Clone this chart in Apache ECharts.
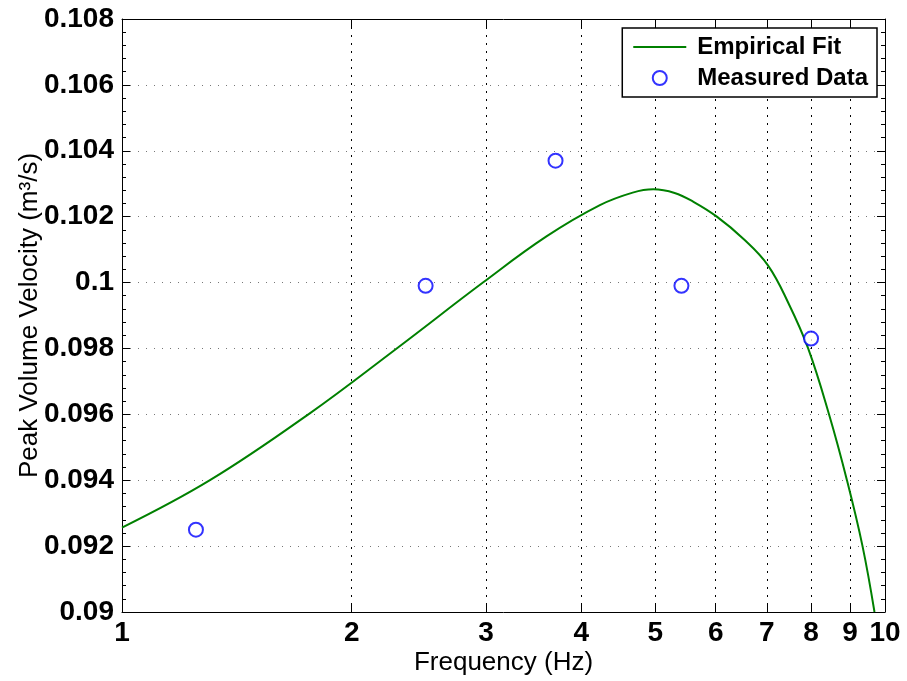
<!DOCTYPE html>
<html>
<head>
<meta charset="utf-8">
<script src="https://cdn.jsdelivr.net/npm/echarts@6/dist/echarts.min.js"></script>
<style>
  html, body { margin: 0; padding: 0; background: #fff; }
  #chart { width: 907px; height: 681px; }
</style>
</head>
<body>
<div id="chart"></div>
<script>
// Empirical fit curve (frequency in Hz, peak volume velocity in m^3/s)
const fitFreq = [1.0, 1.304, 1.755, 2.291, 2.972, 3.60, 4.23, 4.67, 4.97, 5.30, 5.61,
                 6.02, 6.52, 7.02, 7.47, 7.93, 8.445, 8.915, 9.344, 9.688];
const fitVel  = [0.09256, 0.09400, 0.09600, 0.09800, 0.10000, 0.10140, 0.10235, 0.10273,
                 0.10283, 0.10272, 0.10245, 0.10200, 0.10133, 0.10053, 0.09938, 0.09800,
                 0.09600, 0.09400, 0.09200, 0.09000];

// Measured points
const measFreq = [1.25, 2.50, 3.70, 5.41, 8.00];
const measVel  = [0.0925, 0.0999, 0.1037, 0.0999, 0.0983];

// Axis ticks
const xTicks = [1, 2, 3, 4, 5, 6, 7, 8, 9, 10];
const yMin = 0.09, yMax = 0.108, yStep = 0.002;

const FONT = "'Liberation Sans', Arial, Helvetica, sans-serif";

const chart = echarts.init(document.getElementById('chart'), null, { renderer: 'canvas' });

const fitData = fitFreq.map((f, i) => [f, fitVel[i]]);
const measData = measFreq.map((f, i) => [f, measVel[i]]);

const yFmt = v => String(parseFloat(v.toFixed(3)));

const xBase = {
  type: 'log',
  logBase: 10,
  min: 1,
  max: 10,
  axisLine: { show: true, onZero: false, lineStyle: { color: '#000', width: 1 } },
  axisTick: { show: true, inside: true, length: 8, customValues: xTicks, lineStyle: { color: '#000' } },
  minorTick: { show: false }
};

const yBase = {
  type: 'value',
  min: yMin,
  max: yMax,
  interval: yStep,
  axisLine: { show: true, onZero: false, lineStyle: { color: '#000', width: 1 } },
  axisTick: { show: true, inside: true, length: 8, lineStyle: { color: '#000' } },
  minorTick: { show: true, splitNumber: 5, length: 4, lineStyle: { color: '#000' } }
};

chart.setOption({
  animation: false,
  backgroundColor: '#fff',
  grid: { left: 122, right: 22, top: 19, bottom: 69, containLabel: false },
  legend: {
    orient: 'vertical',
    right: 30,
    top: 28,
    align: 'left',
    padding: [7, 9, 7, 11],
    itemGap: 7,
    itemWidth: 53,
    itemHeight: 14,
    borderColor: '#000',
    borderWidth: 1.5,
    backgroundColor: '#fff',
    textStyle: { fontFamily: FONT, fontSize: 24, fontWeight: 'bold', color: '#000', padding: [0, 0, 0, 6] },
    data: [
      { name: 'Empirical Fit', icon: 'path://M0 0H53V2H0Z' },
      { name: 'Measured Data' }
    ]
  },
  xAxis: [
    Object.assign({}, xBase, {
      position: 'bottom',
      name: 'Frequency (Hz)',
      nameLocation: 'middle',
      nameGap: 38,
      nameMoveOverlap: false,
      nameTextStyle: { fontFamily: FONT, fontSize: 26, color: '#000' },
      axisLabel: {
        show: true, margin: 7, customValues: xTicks,
        fontFamily: FONT, fontSize: 28, fontWeight: 'bold', color: '#000',
        formatter: v => String(Math.round(v))
      },
      splitLine: { show: true, lineStyle: { color: '#000', width: 1, type: [2, 6] } }
    }),
    Object.assign({}, xBase, {
      position: 'top',
      axisLabel: { show: false },
      splitLine: { show: false }
    })
  ],
  yAxis: [
    Object.assign({}, yBase, {
      position: 'left',
      name: 'Peak Volume Velocity (m³/s)',
      nameLocation: 'middle',
      nameGap: 79,
      nameMoveOverlap: false,
      nameTextStyle: { fontFamily: FONT, fontSize: 26, color: '#000' },
      axisLabel: {
        show: true, margin: 8,
        fontFamily: FONT, fontSize: 28, fontWeight: 'bold', color: '#000',
        formatter: yFmt
      },
      splitLine: { show: true, lineStyle: { color: '#777', width: 1, type: [1, 7] } }
    }),
    Object.assign({}, yBase, {
      position: 'right',
      axisLabel: { show: false },
      splitLine: { show: false }
    })
  ],
  series: [
    {
      name: 'Empirical Fit',
      type: 'line',
      data: fitData,
      smooth: 0.4,
      symbol: 'none',
      clip: true,
      lineStyle: { color: '#008000', width: 2 },
      itemStyle: { color: '#008000' },
      z: 3
    },
    {
      name: 'Measured Data',
      type: 'scatter',
      data: measData,
      symbol: 'emptyCircle',
      symbolSize: 14,
      itemStyle: { color: '#0000ff', borderColor: '#0000ff', borderWidth: 1.2 },
      z: 4
    }
  ]
});
</script>
</body>
</html>
